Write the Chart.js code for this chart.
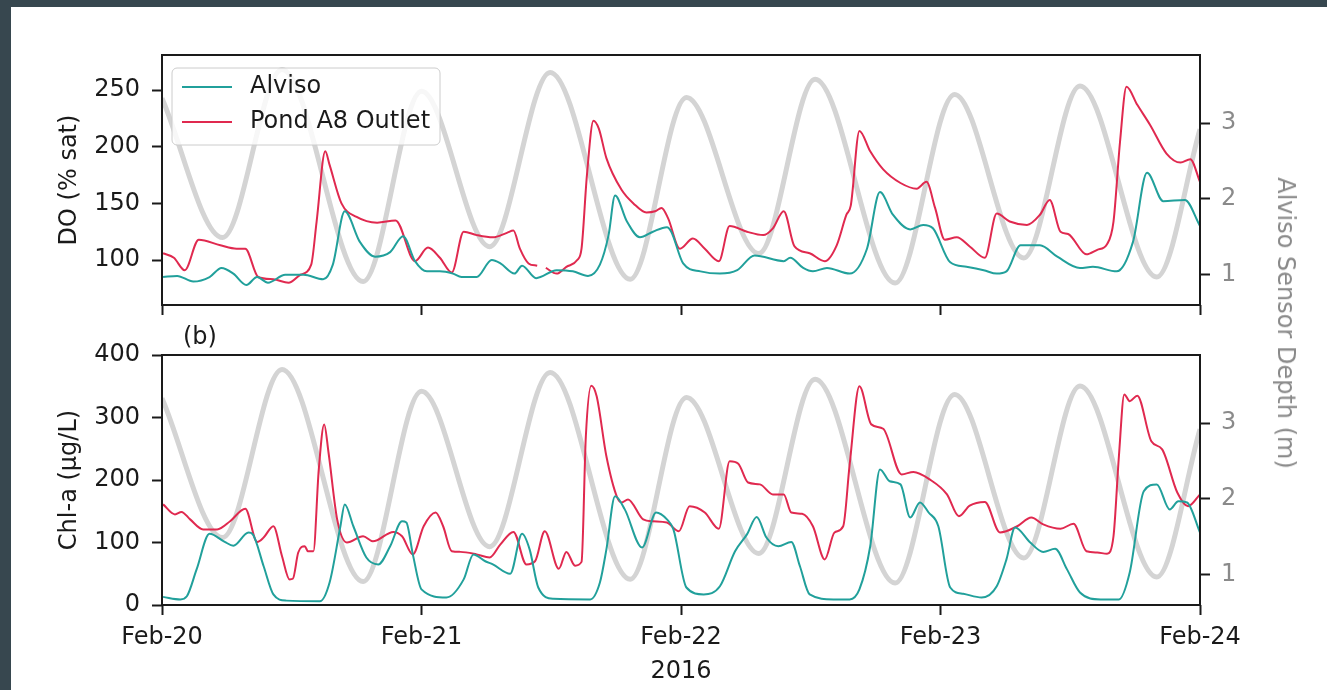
<!DOCTYPE html>
<html>
<head>
<meta charset="utf-8">
<script src="https://cdn.jsdelivr.net/npm/chart.js@4.4.1/dist/chart.umd.min.js"></script>
<style>
  html, body { margin: 0; padding: 0; }
  body { width: 1327px; height: 690px; background: #37474f; position: relative; overflow: hidden; font-family: 'DejaVu Sans', sans-serif; }
  #sheet { position: absolute; left: 11px; top: 7px; right: 0; bottom: 0; background: #fff; }
  canvas { position: absolute; left: 0; }
  #c1 { top: 0; }
  #c2 { top: 325px; }
  #depthTitle { position: absolute; left: 1286px; top: 323px; transform: translate(-50%, -50%) rotate(90deg);
                font-size: 24px; color: #8a8a8a; white-space: nowrap; }
</style>
</head>
<body>
<div id="sheet"></div>
<canvas id="c1" width="1327" height="325"></canvas>
<canvas id="c2" width="1327" height="365"></canvas>
<div id="depthTitle">Alviso Sensor Depth (m)</div>
<script>
const FONT = "'DejaVu Sans', sans-serif";
const INK = '#1a1a1a';
const GREY_TEXT = '#8a8a8a';
const TEAL = '#21a09b';
const RED = '#e0294f';
const TIDE = '#d4d4d4';

// x values are hours since Feb-20 00:00
const dayTicks  = [0, 24, 48, 72, 96];
const dayLabels = ['Feb-20', 'Feb-21', 'Feb-22', 'Feb-23', 'Feb-24'];
const doTicks    = [100, 150, 200, 250];
const chlTicks   = [0, 100, 200, 300, 400];
const depthTicks = [1, 2, 3];
const seriesNames = ['Alviso', 'Pond A8 Outlet'];

// sensor depth (m), highs and lows of the tide
const depth = [
  [0, 3.33], [5.6, 1.49], [11.1, 3.71], [18.6, 0.91], [24.0, 3.42], [30.3, 1.37], [35.9, 3.67],
  [43.3, 0.94], [48.5, 3.34], [55.2, 1.28], [60.4, 3.58], [67.8, 0.89], [73.3, 3.38], [79.7, 1.22],
  [84.9, 3.49], [92.0, 0.97], [96, 2.92]
];

// DO (% sat)
const doAlviso = [
  [0.1, 85], [1.4, 86], [2.9, 81], [4.4, 85], [5.5, 93], [6.6, 88], [7.8, 78], [8.8, 85], [9.8, 80],
  [11.4, 87], [13.1, 87], [14.9, 83], [15.8, 96], [16.9, 143], [18.3, 116], [19.7, 103], [21.1, 107],
  [22.3, 121], [23.4, 99], [24.5, 90], [25.7, 90], [26.9, 88], [27.7, 85], [29.1, 85], [30.5, 100],
  [31.3, 97], [32.6, 88], [33.3, 95], [34.6, 84], [36.5, 91], [38.0, 90], [39.4, 86], [40.5, 96],
  [41.3, 122], [41.9, 157], [43.0, 134], [44.2, 120], [45.4, 125], [46.7, 129], [47.1, 125], [48.2, 97],
  [49.8, 90], [51.6, 88], [53.2, 91], [54.8, 104], [57.5, 99], [58.1, 102], [59.3, 93], [60.2, 90],
  [61.5, 93], [63.6, 88], [65.2, 110], [66.4, 160], [67.6, 140], [69.2, 127], [70.4, 131], [71.3, 128],
  [72.9, 98], [74.4, 94], [76.0, 91], [77.2, 88], [78.1, 90], [79.4, 113], [81.2, 113], [82.8, 103],
  [84.9, 93], [86.1, 94], [88.3, 90], [89.8, 116], [91.1, 177], [92.6, 152], [94.6, 153], [96, 130]
];
const doPond = [
  [0.1, 106], [1.1, 102], [2.1, 91], [3.4, 118], [5.4, 113], [6.9, 110], [7.7, 110], [8.9, 85],
  [10.3, 83], [11.7, 80], [12.8, 87], [13.8, 96], [14.3, 134], [15.1, 196], [15.5, 184], [16.6, 150],
  [18.0, 138], [19.9, 133], [21.6, 135], [23.4, 99], [24.6, 111], [25.7, 102], [26.8, 89], [27.9, 125],
  [29.1, 122], [30.6, 120], [31.9, 124], [32.5, 126], [33.1, 110], [33.9, 97], [34.7, 95], [35.0, null],
  [35.5, 93], [36.5, 88], [37.4, 94], [38.4, 100], [38.8, 110], [39.3, 175], [39.9, 223], [40.4, 216],
  [41.1, 190], [42.5, 162], [43.6, 150], [44.8, 142], [45.6, 143], [46.2, 146], [46.8, 137], [47.9, 110],
  [49.1, 119], [50.2, 110], [51.5, 99], [52.5, 130], [54.1, 125], [55.6, 122], [56.5, 128], [57.5, 143],
  [58.5, 112], [59.9, 106], [61.3, 99], [62.4, 113], [63.3, 140], [63.7, 148], [64.5, 214], [65.5, 196],
  [66.7, 180], [68.3, 168], [69.8, 163], [70.7, 169], [71.5, 146], [72.4, 118], [73.5, 120], [74.7, 112],
  [76.1, 102], [77.2, 141], [78.4, 134], [80.0, 131], [81.2, 140], [82.1, 153], [83.1, 125], [83.8, 123],
  [85.5, 105], [86.5, 109], [87.4, 114], [88.0, 134], [88.6, 204], [89.2, 253], [90.2, 237], [91.4, 219],
  [92.9, 194], [94.2, 186], [95.1, 189], [96, 169]
];

// Chl-a (ug/L)
const chlAlviso = [
  [0.1, 13], [1.7, 9], [2.3, 14], [3.2, 57], [4.4, 114], [5.8, 101], [6.6, 95], [8.0, 116], [8.4, 113],
  [9.4, 62], [10.3, 17], [11.5, 7], [14.6, 6], [15.5, 36], [16.5, 126], [16.9, 161], [17.7, 126],
  [18.9, 76], [20.0, 65], [21.1, 94], [22.2, 134], [22.6, 132], [23.2, 81], [24.0, 25], [26.3, 12],
  [27.9, 41], [28.8, 81], [29.9, 70], [30.6, 65], [32.2, 50], [33.3, 114], [34.0, 89], [34.8, 28],
  [36.2, 10], [39.6, 9], [40.5, 36], [41.1, 89], [41.9, 174], [42.8, 153], [44.4, 92], [45.7, 148],
  [46.7, 137], [47.3, 121], [48.5, 28], [50.1, 17], [51.6, 30], [53.0, 86], [54.1, 113], [55.0, 141],
  [55.9, 108], [57.0, 94], [58.2, 101], [59.0, 62], [59.9, 17], [62.1, 9], [63.6, 9], [64.5, 25],
  [65.5, 94], [66.4, 217], [67.3, 198], [68.3, 193], [69.2, 140], [70.1, 164], [70.9, 148], [71.8, 126],
  [72.9, 28], [74.1, 18], [75.8, 12], [77.2, 30], [78.1, 73], [78.9, 124], [80.3, 100], [81.5, 85],
  [82.6, 90], [83.7, 57], [84.9, 20], [86.8, 9], [88.5, 9], [89.5, 52], [90.8, 182], [92.0, 193],
  [93.2, 153], [94.0, 166], [94.8, 164], [96, 116]
];
const chlPond = [
  [0.1, 161], [1.2, 145], [1.8, 149], [2.6, 137], [3.8, 121], [5.1, 121], [6.3, 134], [7.7, 154],
  [8.8, 101], [9.4, 108], [10.3, 126], [11.1, 78], [11.8, 41], [12.1, 42], [12.6, 84], [13.2, 94],
  [13.5, 86], [14.0, 86], [14.5, 217], [15.0, 289], [15.4, 244], [16.2, 137], [17.1, 100], [18.6, 110],
  [19.5, 102], [21.4, 117], [22.2, 110], [23.2, 81], [24.2, 126], [25.3, 148], [26.0, 126], [26.8, 86],
  [27.6, 85], [29.1, 81], [30.3, 76], [31.3, 97], [32.5, 117], [33.7, 65], [34.5, 70], [35.4, 118],
  [36.7, 58], [37.4, 85], [38.2, 63], [38.8, 69], [39.2, 270], [39.7, 351], [40.2, 334], [41.1, 238],
  [42.1, 172], [42.5, 164], [43.1, 169], [44.5, 137], [45.4, 134], [46.7, 132], [47.8, 118], [48.8, 158],
  [50.2, 148], [51.5, 122], [52.5, 230], [53.3, 226], [54.2, 196], [55.3, 193], [56.5, 177], [57.5, 177],
  [58.2, 148], [59.2, 146], [60.2, 126], [61.3, 73], [62.2, 116], [63.0, 126], [63.6, 225], [64.5, 350],
  [65.6, 289], [66.7, 282], [68.4, 209], [69.5, 213], [71.0, 201], [72.6, 177], [73.7, 142], [74.7, 159],
  [76.1, 165], [77.5, 116], [79.1, 126], [80.4, 140], [81.5, 129], [83.1, 122], [84.3, 130], [85.5, 86],
  [86.5, 84], [87.4, 82], [88.0, 110], [88.5, 238], [89.0, 337], [89.5, 326], [90.2, 335], [91.5, 262],
  [92.5, 249], [93.9, 180], [94.9, 158], [96, 177]
];

const pts = arr => arr.map(([x, y]) => ({ x, y }));
const fixTicks  = vals => scale => { scale.ticks = vals.map(v => ({ value: v })); };
// fixed axis width; drop the label overhang padding so the plot box keeps its size
const fixWidth  = w => scale => { scale.width = w; scale.paddingTop = 0; scale.paddingBottom = 0; };
const fixHeight = h => scale => { scale.height = h; };
const font = { family: FONT, size: 24 };
const tickMarks = { drawOnChartArea: false, tickLength: 10, tickWidth: 2, tickColor: INK };

const series = (label, data, color) => ({
  label, data: pts(data), yAxisID: 'y', borderColor: color, borderWidth: 2,
  pointRadius: 0, cubicInterpolationMode: 'monotone', spanGaps: false, order: 1
});
const tide = () => ({
  label: 'depth', data: pts(depth), yAxisID: 'yd', borderColor: TIDE, borderWidth: 5,
  pointRadius: 0, cubicInterpolationMode: 'monotone', order: 5
});

// box round the plot area, plus the in-plot legend and panel tag
const decor = {
  id: 'decor',
  afterDatasetsDraw(chart, args, opts) {
    const { ctx, chartArea: a } = chart;
    ctx.save();
    ctx.strokeStyle = INK;
    ctx.lineWidth = 2;
    ctx.strokeRect(a.left, a.top, a.right - a.left, a.bottom - a.top);
    ctx.font = `24px ${FONT}`;
    ctx.textBaseline = 'middle';
    if (opts.tag) {
      ctx.fillStyle = INK;
      ctx.fillText(opts.tag, a.left + 21, a.top - 17);
    }
    if (opts.legend) {
      const x = a.left + 10, y = a.top + 13, w = 268, h = 77;
      ctx.beginPath();
      ctx.roundRect(x, y, w, h, 5);
      ctx.fillStyle = 'rgba(255,255,255,0.8)';
      ctx.fill();
      ctx.lineWidth = 1;
      ctx.strokeStyle = '#cccccc';
      ctx.stroke();
      chart.data.datasets.filter(d => seriesNames.includes(d.label)).forEach((d, i) => {
        const ly = a.top + 32 + i * 35;
        ctx.beginPath();
        ctx.moveTo(x + 10, ly);
        ctx.lineTo(x + 60, ly);
        ctx.strokeStyle = d.borderColor;
        ctx.lineWidth = 2;
        ctx.stroke();
        ctx.fillStyle = INK;
        ctx.fillText(d.label, x + 78, ly);
      });
    }
    ctx.restore();
  }
};

function panel(id, opt) {
  return new Chart(document.getElementById(id), {
    type: 'line',
    data: { datasets: [series(seriesNames[0], opt.alviso, TEAL), series(seriesNames[1], opt.pond, RED), tide()] },
    plugins: [decor],
    options: {
      responsive: false,
      devicePixelRatio: 1,
      animation: false,
      layout: { padding: { top: opt.top, left: 0, right: 0, bottom: 0 } },
      plugins: {
        legend: { display: false },
        tooltip: { enabled: false },
        decor: { legend: opt.legend, tag: opt.tag }
      },
      scales: {
        x: {
          type: 'linear', min: 0, max: 96,
          afterBuildTicks: fixTicks(dayTicks),
          afterFit: fixHeight(opt.xHeight),
          ticks: { display: opt.xLabels, font, color: INK, padding: 8, maxRotation: 0, autoSkip: false,
                   callback: v => dayLabels[dayTicks.indexOf(v)] },
          grid: tickMarks,
          border: { display: false },
          title: { display: opt.xLabels, text: '2016', font, color: INK, padding: { top: 0, bottom: 4 } }
        },
        y: {
          position: 'left', min: opt.yMin, max: opt.yMax,
          afterBuildTicks: fixTicks(opt.yTicks),
          afterFit: fixWidth(162),
          ticks: { font, color: INK, padding: 12 },
          grid: tickMarks,
          border: { display: false },
          title: { display: true, text: opt.yTitle, font, color: INK, padding: { top: 55, bottom: 0 } }
        },
        yd: {
          position: 'right', min: 0.6, max: 3.9,
          afterBuildTicks: fixTicks(depthTicks),
          afterFit: fixWidth(127),
          ticks: { font, color: GREY_TEXT, padding: 11 },
          grid: tickMarks,
          border: { display: false }
        }
      }
    }
  });
}

panel('c1', {
  alviso: doAlviso, pond: doPond, top: 55, xHeight: 20, xLabels: false,
  yMin: 60.3, yMax: 281, yTicks: doTicks, yTitle: 'DO (% sat)', legend: true
});
panel('c2', {
  alviso: chlAlviso, pond: chlPond, top: 30, xHeight: 85, xLabels: true,
  yMin: 0, yMax: 400, yTicks: chlTicks, yTitle: 'Chl-a (\u03bcg/L)', tag: '(b)'
});
</script>
</body>
</html>
